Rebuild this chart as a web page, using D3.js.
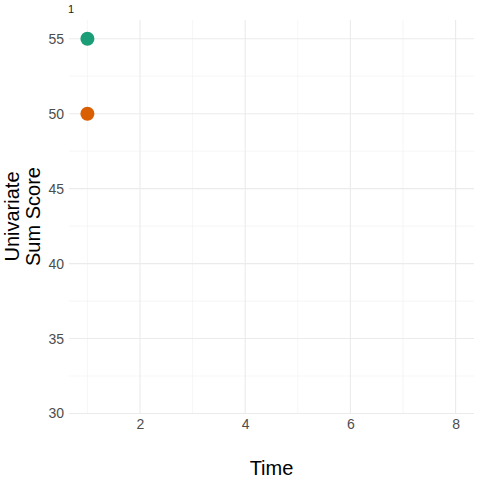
<!DOCTYPE html>
<html><head><meta charset="utf-8">
<script src="https://cdn.jsdelivr.net/npm/d3@7"></script>
<style>body{margin:0;background:#fff}svg{display:block}</style>
</head><body>
<script>
const facetLabel = "1";
const times = [1, 1];
const scores = [55, 50];
const groups = ["A", "B"];
const colors = ["#1b9e77", "#d95f02"];
const xTicks = [2, 4, 6, 8];
const xMinor = [1, 3, 5, 7];
const yTicks = [30, 35, 40, 45, 50, 55];
const yMinor = [32.5, 37.5, 42.5, 47.5, 52.5];

(function () {
const W = 480, H = 480;
const svg = d3.select("body").append("svg").attr("width", W).attr("height", H);
const pL = 69, pR = 474, pT = 20, pB = 414;
const x = d3.scaleLinear().domain([0.65, 8.35]).range([pL, pR]);
const y = d3.scaleLinear().domain([30, 56.25]).range([413.5, pT]);
const font = "Liberation Sans, Arial, sans-serif";

const g = svg.append("g");
g.selectAll(".yminor").data(yMinor).enter().append("line")
  .attr("x1", pL).attr("x2", pR).attr("y1", d => y(d)).attr("y2", d => y(d))
  .attr("stroke", "#f0f0f0").attr("stroke-width", 0.6);
g.selectAll(".xminor").data(xMinor).enter().append("line")
  .attr("y1", pT).attr("y2", pB).attr("x1", d => x(d)).attr("x2", d => x(d))
  .attr("stroke", "#f0f0f0").attr("stroke-width", 0.6);
g.selectAll(".ymajor").data(yTicks).enter().append("line")
  .attr("x1", pL).attr("x2", pR).attr("y1", d => y(d)).attr("y2", d => y(d))
  .attr("stroke", "#ebebeb").attr("stroke-width", 1.1);
g.selectAll(".xmajor").data(xTicks).enter().append("line")
  .attr("y1", pT).attr("y2", pB).attr("x1", d => x(d)).attr("x2", d => x(d))
  .attr("stroke", "#ebebeb").attr("stroke-width", 1.1);

const yAxis = svg.append("g").attr("transform", `translate(${pL},0)`)
  .call(d3.axisLeft(y).tickValues(yTicks).tickSize(0).tickPadding(5));
const xAxis = svg.append("g").attr("transform", `translate(0,${pB})`)
  .call(d3.axisBottom(x).tickValues(xTicks).tickSize(0).tickPadding(5));
[yAxis, xAxis].forEach(a => {
  a.attr("font-size", 14).attr("font-family", font);
  a.select(".domain").remove();
  a.selectAll("text").attr("fill", "#4d4d4d");
});

svg.selectAll("circle").data(times).enter().append("circle")
  .attr("cx", (d, i) => x(d)).attr("cy", (d, i) => y(scores[i]))
  .attr("r", 7).attr("fill", (d, i) => colors[i]);

svg.append("text").attr("x", 68).attr("y", 13).attr("font-family", font)
  .attr("font-size", 11).attr("fill", "#1a1a1a").text(facetLabel);

svg.append("text").attr("x", (pL + pR) / 2).attr("y", 475).attr("text-anchor", "middle")
  .attr("font-family", font).attr("font-size", 20).attr("fill", "#000").text("Time");
const yt = svg.append("text").attr("transform", `translate(0,${(pT + 413) / 2}) rotate(-90)`)
  .attr("text-anchor", "middle").attr("font-family", font).attr("font-size", 20).attr("fill", "#000");
yt.append("tspan").attr("x", 0).attr("y", 19).text("Univariate");
yt.append("tspan").attr("x", 0).attr("y", 40).text("Sum Score");
})();
</script>
</body></html>
